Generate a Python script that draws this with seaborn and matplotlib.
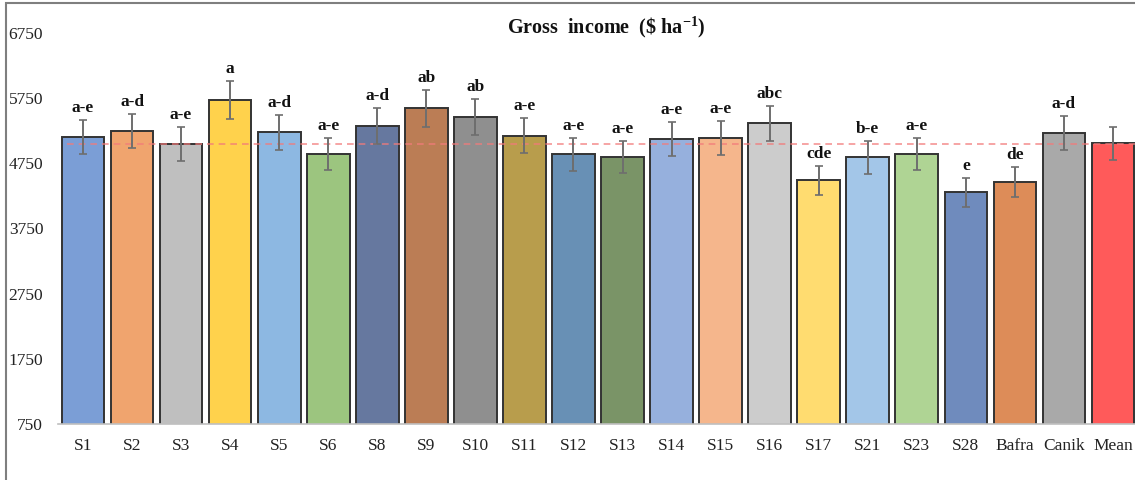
import matplotlib
matplotlib.use("Agg")
import matplotlib.pyplot as plt
from matplotlib.patches import Rectangle
import seaborn as sns
import pandas as pd

categories = ["S1", "S2", "S3", "S4", "S5", "S6", "S8", "S9", "S10", "S11", "S12",
              "S13", "S14", "S15", "S16", "S17", "S21", "S23", "S28", "Bafra", "Canik", "Mean"]
income = [5155, 5243, 5043, 5718, 5222, 4890, 5324, 5590, 5462, 5171, 4890,
          4844, 5120, 5135, 5360, 4486, 4839, 4890, 4302, 4461, 5207, 5058]
std_err = [260, 263, 256, 289, 263, 250, 273, 284, 279, 268, 253,
           243, 256, 256, 273, 227, 248, 250, 217, 230, 263, 253]
groups = ["a-e", "a-d", "a-e", "a", "a-d", "a-e", "a-d", "ab", "ab", "a-e", "a-e",
          "a-e", "a-e", "a-e", "abc", "cde", "b-e", "a-e", "e", "de", "a-d", ""]
overall_mean = 5045
bar_colors = ["#7b9ed6", "#f0a46e", "#bfbfbf", "#ffd24c", "#8db8e2", "#9cc57f",
              "#66789f", "#bb7d55", "#8f8f8f", "#b89d4c", "#6890b5", "#7a9467",
              "#96b0dd", "#f5b68c", "#cccccc", "#ffdc70", "#a3c6e8", "#afd494",
              "#6f8bbd", "#dd8c58", "#a9a9a9", "#ff5a5a"]

df = pd.DataFrame({"site": categories, "income": income})

sns.set_theme(style="white")
plt.rcParams["font.family"] = ["Liberation Serif", "DejaVu Serif"]
plt.rcParams["mathtext.fontset"] = "custom"
plt.rcParams["mathtext.rm"] = "Liberation Serif"
plt.rcParams["mathtext.bf"] = "Liberation Serif:bold"

fig = plt.figure(figsize=(11.35, 4.8), dpi=100)
ax = fig.add_axes([58.5 / 1135, 56 / 480, 1079 / 1135, 391.3 / 480])

sns.barplot(data=df, x="site", y="income", hue="site", palette=bar_colors,
            legend=False, width=0.87, edgecolor="#333333", linewidth=1.4,
            saturation=1, ax=ax)
ax.errorbar(range(len(categories)), income, yerr=std_err, fmt="none",
            ecolor="#6e6e6e", elinewidth=1.4, capsize=2.7, capthick=1.2, zorder=5)

for i, (v, e, g) in enumerate(zip(income, std_err, groups)):
    if g:
        ax.text(i, v + e + 60, g, ha="center", va="bottom", fontsize=12.5,
                fontweight="bold", color="#111111")

ax.axhline(overall_mean, xmin=0.008, xmax=1, color="#f27a7a", lw=1.2,
           ls=(0, (4, 3)), alpha=0.8, zorder=4)

ax.set_ylim(750, 6750)
ax.set_xlim(-0.5, 21.5)
ax.set_yticks(range(750, 6751, 1000))
ax.set_xlabel("")
ax.set_ylabel("")
ax.tick_params(axis="y", labelsize=12.5, pad=11, length=0, colors="#222222")
ax.tick_params(axis="x", labelsize=12.5, pad=10, length=0, colors="#222222")
for side in ["left", "right", "top"]:
    ax.spines[side].set_visible(False)
ax.spines["bottom"].set_color("#bfbfbf")
ax.spines["bottom"].set_linewidth(1.2)

fig.text(606 / 1135, 1 - 27 / 480, r"Gross  income  (\$ ha$^{\mathbf{-1}}$)",
         ha="center", va="center", fontsize=14.5, fontweight="bold", color="#111111")

fig.patches.append(Rectangle((6 / 1135, -0.1), 1.2, 1 - 3 / 480 + 0.1,
                             transform=fig.transFigure, fill=False,
                             edgecolor="#7f7f7f", linewidth=1.5))

fig.savefig("out.png", dpi=100)
